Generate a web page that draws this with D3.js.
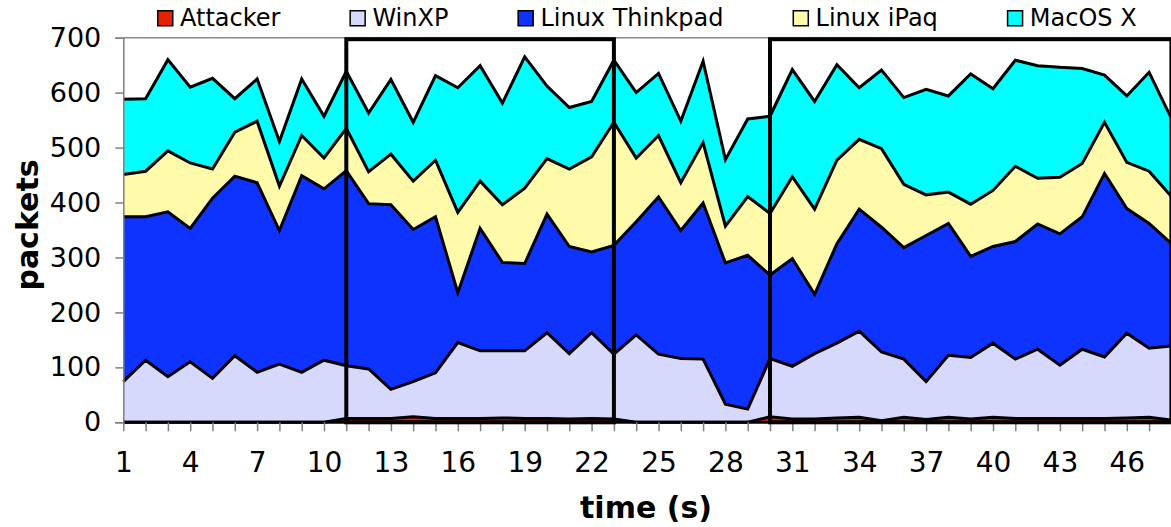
<!DOCTYPE html>
<html><head><meta charset="utf-8">
<script src="https://cdn.jsdelivr.net/npm/d3@7"></script>
<style>body{margin:0;background:#fff}svg{display:block}text{font-family:"DejaVu Sans",Verdana,sans-serif}</style>
</head><body>
<svg id="c" width="1171" height="527"></svg>
<script>
const times = [1,2,3,4,5,6,7,8,9,10,11,12,13,14,15,16,17,18,19,20,21,22,23,24,25,26,27,28,29,30,31,32,33,34,35,36,37,38,39,40,41,42,43,44,45,46,47,48];
const seriesNames = ["Attacker","WinXP","Linux Thinkpad","Linux iPaq","MacOS X"];
const attacker = [0,0,0,0,0,0,0,0,0,0,7,7,7,10,7,7,7,8,7,7,6,7,6,0,0,0,0,0,0,10,6,6,8,9,3,9,5,9,6,9,7,7,7,7,7,8,9,4];
const winxp = [74,113,83,110,80,121,91,106,91,113,96,90,53,64,83,138,123,122,123,156,119,156,118,159,124,116,115,33,24,106,96,119,136,157,125,106,69,113,112,135,108,126,97,126,112,154,126,135];
const thinkpad = [300,261,300,243,328,327,345,243,358,312,355,301,336,277,284,91,223,161,159,216,195,147,198,206,286,233,284,257,280,152,196,108,181,222,227,203,266,240,184,176,214,228,239,241,334,227,227,186];
const ipaq = [77,83,111,119,53,80,112,81,73,56,77,58,92,88,103,146,86,105,137,101,141,173,224,116,112,87,110,67,107,112,149,155,152,127,143,115,74,57,95,102,137,83,103,97,93,84,95,86];
const macos = [137,132,166,138,165,61,77,81,103,76,104,107,136,107,154,227,210,185,239,132,112,101,113,119,113,112,148,121,141,177,195,196,174,94,143,158,192,175,237,185,193,205,200,173,86,121,180,142];
const xTickLabels = [1,4,7,10,13,16,19,22,25,28,31,34,37,40,43,46];
const yTickLabels = [0,100,200,300,400,500,600,700];
const windows = [[11,23],[30,48]];
const colors = ["#E52200","#D6D8FC","#0F33FF","#FFFBAA","#00FFFF"];

const svg = d3.select("#c");
const x = d3.scaleLinear().domain([1,48]).range([123.3,1171.4]);
const y = d3.scaleLinear().domain([0,700]).range([422.3,37.7]);

const table = times.map((t,i)=>({t, "Attacker":attacker[i], "WinXP":winxp[i], "Linux Thinkpad":thinkpad[i], "Linux iPaq":ipaq[i], "MacOS X":macos[i]}));
const stacked = d3.stack().keys(seriesNames)(table);

const area = d3.area().x(d=>x(d.data.t)).y0(d=>y(d[0])).y1(d=>y(d[1]));
const line = d3.line().x(d=>x(d.data.t)).y(d=>y(d[1]));

svg.append("g").selectAll("path").data(stacked).join("path")
  .attr("d", area).attr("fill",(d,i)=>colors[i]).attr("stroke","none");

// top frame
svg.append("line").attr("x1",x(1)).attr("x2",1171).attr("y1",y(700)).attr("y2",y(700))
  .attr("stroke","#8a8a8a").attr("stroke-width",1.5);

// series outlines
svg.append("g").selectAll("path").data(stacked).join("path")
  .attr("d", line).attr("fill","none").attr("stroke","#000").attr("stroke-width",3)
  .attr("stroke-linejoin","miter");
svg.append("line").attr("x1",x(1)).attr("x2",1171).attr("y1",y(0)).attr("y2",y(0))
  .attr("stroke","#000").attr("stroke-width",3);

// y axis
const yAxis = d3.axisLeft(y).tickValues(yTickLabels).tickSize(8).tickPadding(14).tickFormat(d3.format("d"));
const gy = svg.append("g").attr("transform",`translate(${x(1)},0)`).call(yAxis);
gy.select(".domain").attr("stroke","#808080").attr("stroke-width",1.5);
gy.selectAll(".tick line").attr("stroke","#808080").attr("stroke-width",1.5);
gy.selectAll(".tick text").attr("font-size",27).attr("fill","#000").attr("font-family","DejaVu Sans");

// x axis
const xAxis = d3.axisBottom(x).tickValues(times).tickSize(9).tickPadding(21)
  .tickFormat(d => xTickLabels.includes(d) ? d : "");
const gx = svg.append("g").attr("transform",`translate(0,${y(0)})`).call(xAxis);
gx.select(".domain").remove();
gx.selectAll(".tick line").attr("stroke","#808080").attr("stroke-width",1.5);
gx.selectAll(".tick text").attr("font-size",28).attr("fill","#000").attr("font-family","DejaVu Sans");

// window boxes
svg.append("g").selectAll("rect").data(windows).join("rect")
  .attr("x",d=>x(d[0])).attr("width",d=>x(d[1])-x(d[0]))
  .attr("y",y(700)+1.5).attr("height",y(0)-y(700)-1.5)
  .attr("fill","none").attr("stroke","#000").attr("stroke-width",4);

// titles
svg.append("text").attr("x",646).attr("y",518).attr("text-anchor","middle")
  .attr("font-size",30).attr("font-weight","bold").text("time (s)");
svg.append("text").attr("transform","translate(38,225) rotate(-90)").attr("text-anchor","middle")
  .attr("font-size",30).attr("font-weight","bold").text("packets");

// legend
const lg = svg.append("g");
let lx = 157;
seriesNames.forEach((n,i)=>{
  lg.append("rect").attr("x",lx+0.75).attr("y",10.75).attr("width",15).attr("height",15)
    .attr("fill",colors[i]).attr("stroke","#000").attr("stroke-width",1.5);
  const t = lg.append("text").attr("x",lx+23).attr("y",26).attr("font-size",24).text(n);
  lx += 23 + t.node().getComputedTextLength() + 69;
});
</script>
</body></html>
